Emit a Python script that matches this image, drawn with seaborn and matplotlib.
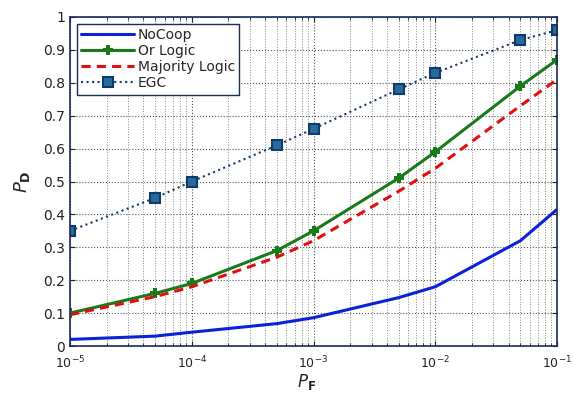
import numpy as np
import pandas as pd
import matplotlib
matplotlib.use("Agg")
import matplotlib.pyplot as plt
import seaborn as sns
from matplotlib.ticker import LogLocator, NullFormatter

pf = [1e-5, 5e-5, 1e-4, 5e-4, 1e-3, 5e-3, 1e-2, 5e-2, 1e-1]
nocoop = [0.02, 0.03, 0.042, 0.068, 0.086, 0.147, 0.18, 0.32, 0.415]
or_logic = [0.10, 0.16, 0.19, 0.29, 0.35, 0.51, 0.59, 0.79, 0.87]
majority = [0.095, 0.15, 0.18, 0.27, 0.32, 0.47, 0.54, 0.73, 0.81]
egc = [0.35, 0.45, 0.50, 0.61, 0.66, 0.78, 0.83, 0.93, 0.96]

sns.set_style("ticks")
plt.rcParams['font.family'] = ['DejaVu Sans']

fig = plt.figure(figsize=(5.73, 3.94), dpi=100)
ax = fig.add_axes([70/573, 1-346/394, 487/573, 329/394])

df = pd.DataFrame({"pf": pf, "NoCoop": nocoop, "Or Logic": or_logic,
                   "Majority Logic": majority, "EGC": egc})

sns.lineplot(data=df, x="pf", y="NoCoop", ax=ax, color="#0a22d8", lw=2.2, label="NoCoop")
sns.lineplot(data=df, x="pf", y="Or Logic", ax=ax, color="#1a7a1a", lw=2.2, marker="P",
             markersize=7, markeredgewidth=0, label="Or Logic")
sns.lineplot(data=df, x="pf", y="Majority Logic", ax=ax, color="#e01010", lw=2.2,
             linestyle=(0, (3, 2)), label="Majority Logic")
sns.lineplot(data=df, x="pf", y="EGC", ax=ax, color="#1a3a6e", lw=1.5, linestyle=":",
             marker="s", markersize=7, markerfacecolor="#2a6a9a", markeredgecolor="#0e3a6e",
             markeredgewidth=1.5, label="EGC")

ax.set_xscale("log")
ax.set_xlim(1e-5, 1e-1)
ax.set_ylim(0, 1)
ax.set_yticks(np.arange(0, 1.01, 0.1))
ax.set_yticklabels(["0", "0.1", "0.2", "0.3", "0.4", "0.5", "0.6", "0.7", "0.8", "0.9", "1"])
ax.xaxis.set_minor_locator(LogLocator(base=10, subs=np.arange(2, 10), numticks=20))
ax.xaxis.set_minor_formatter(NullFormatter())
ax.grid(True, which="major", linestyle=":", color="#555555", lw=0.8)
ax.grid(True, which="minor", axis="x", linestyle=":", color="#888888", lw=0.7)
ax.tick_params(direction="in", which="both", top=True, right=True, labelsize=10, colors="#222222")
ax.tick_params(axis="x", which="major", pad=6, labelsize=9)
for s in ax.spines.values():
    s.set_color("#1a2a5a")
    s.set_linewidth(1.2)

ax.set_xlabel(r"$\mathbf{\mathit{P}_F}$", fontsize=12)
ax.xaxis.set_label_coords(0.485, -0.08)
ax.set_ylabel(r"$\mathbf{\mathit{P}_D}$", fontsize=13, labelpad=8)

leg = ax.legend(loc="upper left", fontsize=10, frameon=True, fancybox=False,
                borderaxespad=0.5, handlelength=3.8, labelspacing=0.15,
                borderpad=0.3, handletextpad=0.3)
leg.get_frame().set_edgecolor("#1a2a5a")
leg.get_frame().set_linewidth(1.0)
leg.get_frame().set_alpha(1)

fig.savefig("out.png", dpi=100)
